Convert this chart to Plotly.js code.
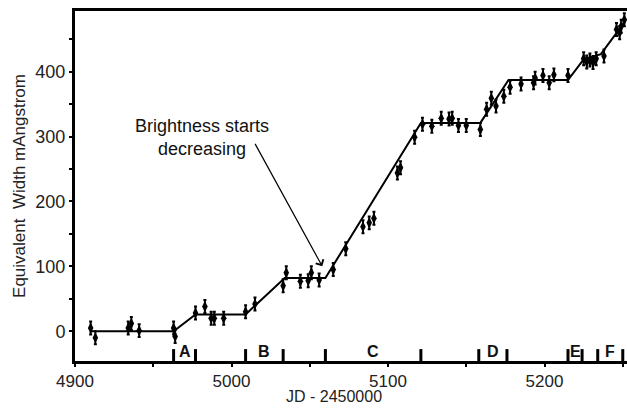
<!DOCTYPE html>
<html>
<head>
<meta charset="utf-8">
<script src="https://cdn.plot.ly/plotly-3.0.1.min.js"></script>
<style>html,body{margin:0;padding:0;background:#fff;}#chart{width:627px;height:408px;}</style>
</head>
<body>
<div id="chart"></div>
<script>
// Observations (JD - 2450000, equivalent width in mAngstrom)
const obsJD = [4910, 4913, 4934, 4936, 4941, 4963, 4964, 4977, 4983, 4987, 4989, 4995, 5009, 5015, 5033, 5035, 5044, 5049, 5051, 5056, 5065, 5073, 5084, 5088, 5091, 5106, 5108, 5117, 5122, 5128, 5134, 5139, 5141, 5145, 5150, 5159, 5163, 5166, 5169, 5174, 5178, 5185, 5193, 5194, 5199, 5203, 5206, 5215, 5225, 5227, 5229, 5231, 5233, 5238, 5246, 5248, 5249, 5251];
const obsEW = [5, -10, 5, 12, 1, 5, -8, 28, 38, 20, 20, 20, 30, 42, 70, 90, 77, 78, 90, 79, 95, 127, 161, 167, 174, 244, 252, 299, 319, 316, 328, 327, 328, 317, 317, 311, 342, 359, 347, 362, 376, 381, 383, 390, 394, 383, 395, 394, 420, 415, 418, 414, 420, 424, 465, 460, 470, 480];
const obsErr = 10;

// Piecewise linear fit
const fitJD = [4910, 4963, 4977, 5009, 5034, 5060, 5121, 5159, 5177, 5215, 5225, 5236, 5251];
const fitEW = [0, 0, 26, 26, 82, 82, 321, 321, 387, 387, 419, 427, 476];

// Growth intervals marked along the time axis
const segLabels = ['A', 'B', 'C', 'D', 'E', 'F'];
const segStart = [4963, 5009, 5060, 5158, 5215, 5234];
const segEnd   = [4977, 5033, 5121, 5176, 5224, 5250];

// Annotation
const noteText = 'Brightness starts<br>decreasing';
const noteJD = 4981, noteEW = 298;
const arrowTipJD = 5058, arrowTipEW = 100;

const xRange = [4900, 5252.7];
const yRange = [-45.8, 493.4];
const font = 'Arial, "Liberation Sans", sans-serif';

const traces = [
  {
    x: fitJD, y: fitEW, type: 'scatter', mode: 'lines',
    line: {color: '#000', width: 2}, hoverinfo: 'skip'
  },
  {
    x: obsJD, y: obsEW, type: 'scatter', mode: 'markers',
    marker: {symbol: 'diamond-tall', size: 8, color: '#000'},
    error_y: {type: 'constant', value: obsErr, color: '#000', thickness: 2, width: 1.5}
  }
];

const shapes = [];
const annotations = [];
const bounds = [];
segStart.forEach((s, i) => { bounds.push(s, segEnd[i]); });
bounds.forEach(b => {
  shapes.push({type: 'line', xref: 'x', yref: 'paper', x0: b, x1: b, y0: 0, y1: 0.034,
    line: {color: '#000', width: 3}});
});
segLabels.forEach((lab, i) => {
  annotations.push({xref: 'x', yref: 'paper', x: (segStart[i] + segEnd[i]) / 2, y: 0.028,
    text: '<b>' + lab + '</b>', showarrow: false, xanchor: 'center', yanchor: 'middle',
    font: {family: font, size: 16, color: '#111'}});
});
annotations.push({xref: 'x', yref: 'y', x: noteJD, y: noteEW, text: noteText, showarrow: false,
  xanchor: 'center', yanchor: 'middle', font: {family: font, size: 18, color: '#111'}});
annotations.push({xref: 'x', yref: 'y', x: arrowTipJD, y: arrowTipEW, text: '', showarrow: true,
  ax: -68, ay: -124, arrowhead: 4, arrowsize: 1.4, arrowwidth: 1.2, arrowcolor: '#000'});
annotations.push({xref: 'paper', yref: 'paper', x: 0.47, y: -0.128, text: 'JD - 2450000',
  showarrow: false, xanchor: 'center', yanchor: 'bottom', borderpad: 0,
  font: {family: font, size: 16, color: '#222'}});

const layout = {
  width: 627, height: 408,
  margin: {l: 75, r: 0, t: 11, b: 46.5},
  paper_bgcolor: '#fff', plot_bgcolor: '#fff',
  showlegend: false,
  font: {family: font, size: 18, color: '#222'},
  xaxis: {
    range: xRange, showgrid: false, zeroline: false,
    showline: true, linecolor: '#000', linewidth: 3, mirror: true,
    ticks: 'outside', ticklen: 3, tickwidth: 2, tickcolor: '#000',
    tick0: 4900, dtick: 100,
    minor: {dtick: 50, ticks: 'outside', ticklen: 3, tickwidth: 2, tickcolor: '#000'},
    tickfont: {family: font, size: 17, color: '#222'}
  },
  yaxis: {
    range: yRange, showgrid: false, zeroline: false,
    showline: true, linecolor: '#000', linewidth: 3,
    ticks: 'outside', ticklen: 3, tickwidth: 2, tickcolor: '#000',
    tick0: 0, dtick: 100,
    minor: {dtick: 50, ticks: 'outside', ticklen: 3, tickwidth: 2, tickcolor: '#000'},
    tickfont: {family: font, size: 18, color: '#222'},
    title: {text: 'Equivalent  Width mAngstrom', font: {family: font, size: 17, color: '#222'}, standoff: 6}
  },
  shapes: shapes,
  annotations: annotations
};

Plotly.newPlot('chart', traces, layout, {staticPlot: true, displayModeBar: false});
</script>
</body>
</html>
